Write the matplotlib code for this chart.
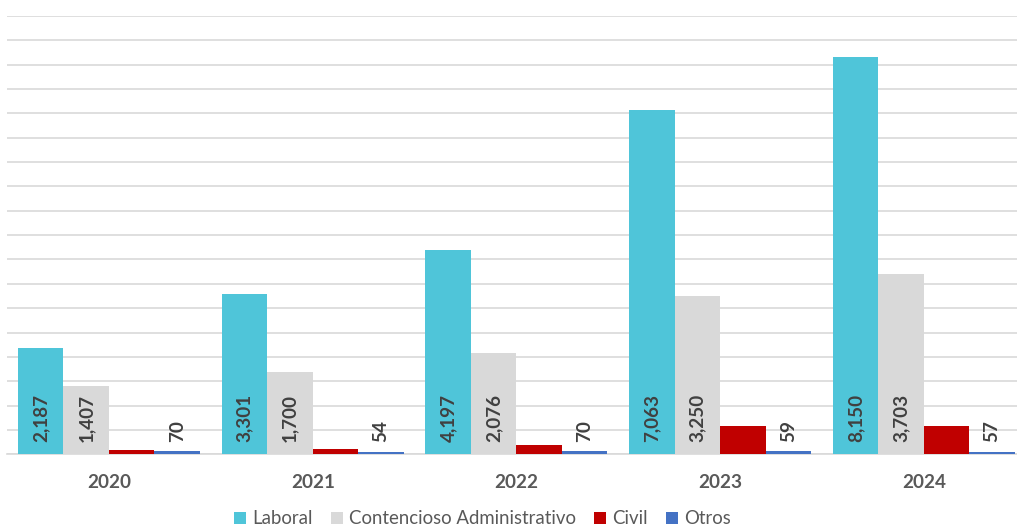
import matplotlib
matplotlib.use("Agg")
import matplotlib.pyplot as plt
from matplotlib.patches import Patch
import numpy as np

years = ["2020", "2021", "2022", "2023", "2024"]
series_names = ["Laboral", "Contencioso Administrativo", "Civil", "Otros"]
laboral = [2187, 3301, 4197, 7063, 8150]
contencioso = [1407, 1700, 2076, 3250, 3703]
civil = [80, 115, 185, 575, 575]
otros = [70, 54, 70, 59, 57]
colors = ["#4FC5D9", "#D9D9D9", "#C00000", "#4472C4"]
labeled = [True, True, False, True]

FONT = "Lato"
TEXT_GRAY = "#595959"
LABEL_GRAY = "#404040"

fig = plt.figure(figsize=(10.17, 5.28), dpi=100)
ax = fig.add_axes([0.00698, 0.1396, 1.0017, 0.8301])

values = [laboral, contencioso, civil, otros]
x = np.arange(len(years))
width = 0.2233
offsets = (np.arange(4) - 1.5) * width

for vals, off, col, lab in zip(values, offsets, colors, labeled):
    bars = ax.bar(x + off, vals, width, color=col, zorder=3)
    if lab:
        for b, v in zip(bars, vals):
            ax.annotate(f"{v:,}", xy=(b.get_x() + b.get_width() / 2, 0),
                        xytext=(0, 8.5), textcoords="offset points",
                        rotation=90, ha="center", va="bottom",
                        fontsize=13.6, fontweight="bold", color=LABEL_GRAY,
                        family=FONT, zorder=4)

ax.set_xlim(-0.5, len(years) - 0.5)
ax.set_ylim(0, 9000)
ax.set_yticks(np.arange(0, 9001, 500))
ax.yaxis.grid(True, color="#D9D9D9", linewidth=1.2, zorder=0)
ax.set_axisbelow(True)
ax.tick_params(axis="y", left=False, labelleft=False)
ax.tick_params(axis="x", length=0, pad=14.5)
ax.set_xticks(x)
ax.set_xticklabels(years, fontsize=13.6, fontweight="bold", color=TEXT_GRAY, family=FONT)
for s in ["top", "right", "left"]:
    ax.spines[s].set_visible(False)
ax.spines["bottom"].set_color("#D9D9D9")
ax.spines["bottom"].set_linewidth(1.2)

handles = [Patch(facecolor=c, edgecolor="none") for c in colors]
fig.legend(handles, series_names, loc="center", bbox_to_anchor=(0.4744, 0.0175),
           ncol=4, frameon=False, handlelength=0.65, handleheight=0.65,
           handletextpad=0.3, columnspacing=1.0,
           prop={"family": FONT, "size": 13.4}, labelcolor=TEXT_GRAY)

fig.savefig("out.png", dpi=100)
